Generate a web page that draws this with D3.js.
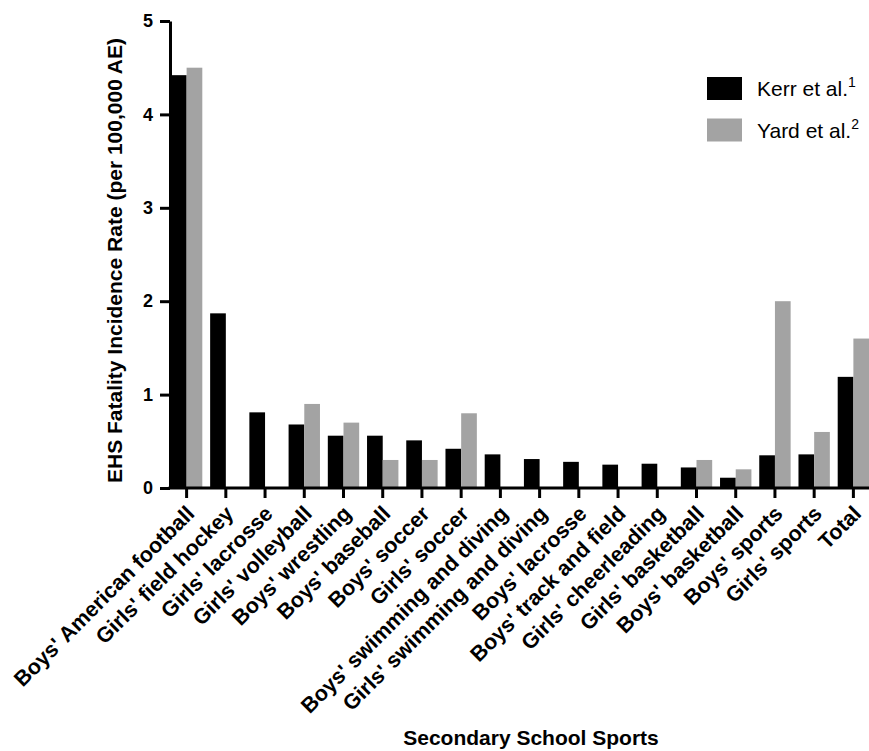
<!DOCTYPE html>
<html>
<head>
<meta charset="utf-8">
<script src="https://cdn.jsdelivr.net/npm/d3@7"></script>
<style>
  html, body { margin: 0; padding: 0; background: #fff; }
  svg { display: block; font-family: "Liberation Sans", Arial, Helvetica, sans-serif; }
</style>
</head>
<body>
<svg id="chart" width="869" height="751"></svg>
<script>
// Sports categories along the x axis
const categories = [
  "Boys' American football", "Girls' field hockey", "Girls' lacrosse", "Girls' volleyball",
  "Boys' wrestling", "Boys' baseball", "Boys' soccer", "Girls' soccer",
  "Boys' swimming and diving", "Girls' swimming and diving", "Boys' lacrosse",
  "Boys' track and field", "Girls' cheerleading", "Girls' basketball",
  "Boys' basketball", "Boys' sports", "Girls' sports", "Total"
];

// Series names and superscript reference numbers
const seriesNames = ["Kerr et al.", "Yard et al."];
const seriesRefs = ["1", "2"];

// Incidence rates per 100,000 athlete-exposures (null = not reported)
const kerrValues = [4.42, 1.87, 0.81, 0.68, 0.56, 0.56, 0.51, 0.42, 0.36, 0.31, 0.28, 0.25, 0.26, 0.22, 0.11, 0.35, 0.36, 1.19];
const yardValues = [4.5, null, null, 0.9, 0.7, 0.3, 0.3, 0.8, null, null, null, null, null, 0.3, 0.2, 2.0, 0.6, 1.6];

// Y axis tick values
const yTicks = [0, 1, 2, 3, 4, 5];

const colors = ["#000000", "#a3a3a3"];
const svg = d3.select("#chart");

const plotLeft = 170, plotRight = 873, plotTop = 21, plotBottom = 488;

const x0 = d3.scaleBand().domain(categories).range([167, plotRight]).paddingInner(0.2).paddingOuter(0.1);
const x1 = d3.scaleBand().domain(seriesNames).range([0, x0.bandwidth()]);
const y = d3.scaleLinear().domain([0, 5]).range([plotBottom, plotTop]);

const seriesValues = [kerrValues, yardValues];
const rows = [];
categories.forEach((c, i) => {
  seriesNames.forEach((s, j) => {
    const v = seriesValues[j][i];
    if (v !== null) rows.push({ cat: c, series: s, value: v, color: colors[j] });
  });
});

// Bars
svg.append("g").selectAll("rect").data(rows).join("rect")
  .attr("x", d => x0(d.cat) + x1(d.series))
  .attr("y", d => y(d.value))
  .attr("width", x1.bandwidth())
  .attr("height", d => y(0) - y(d.value))
  .attr("fill", d => d.color);

// Y axis
const yAxis = svg.append("g")
  .attr("transform", `translate(${plotLeft},0)`)
  .call(d3.axisLeft(y).tickValues(yTicks).tickFormat(d3.format("d")).tickSize(10).tickSizeOuter(0).tickPadding(7));
yAxis.select(".domain").attr("stroke-width", 3).attr("stroke", "#000");
yAxis.selectAll(".tick line").attr("stroke-width", 3).attr("stroke", "#000");
yAxis.selectAll(".tick text").attr("font-size", 18).attr("font-weight", "bold").attr("fill", "#000")
  .attr("font-family", "'Liberation Sans', Arial, sans-serif");

// X axis
const xAxis = svg.append("g")
  .attr("transform", `translate(0,${plotBottom})`)
  .call(d3.axisBottom(x0).tickSize(10).tickSizeOuter(0).tickFormat(""));
xAxis.select(".domain").remove();
xAxis.selectAll(".tick line").attr("stroke-width", 3).attr("stroke", "#000");
xAxis.append("line")
  .attr("x1", plotLeft - 1.5).attr("x2", 869)
  .attr("y1", 0).attr("y2", 0)
  .attr("stroke", "#000").attr("stroke-width", 3);

// Rotated category labels
svg.append("g").selectAll("text").data(categories).join("text")
  .attr("transform", d => `translate(${x0(d) + x0.bandwidth() / 2 + 9},${plotBottom + 27}) rotate(-45)`)
  .attr("text-anchor", "end")
  .attr("font-size", 21.5)
  .attr("font-weight", "bold")
  .attr("fill", "#000")
  .text(d => d);

// Axis titles
svg.append("text")
  .attr("transform", `translate(122,${(plotTop + plotBottom) / 2 + 6}) rotate(-90)`)
  .attr("text-anchor", "middle")
  .attr("font-size", 21)
  .attr("font-weight", "bold")
  .text("EHS Fatality Incidence Rate (per 100,000 AE)");

svg.append("text")
  .attr("x", 531).attr("y", 745)
  .attr("text-anchor", "middle")
  .attr("font-size", 21)
  .attr("font-weight", "bold")
  .text("Secondary School Sports");

// Legend
const legend = svg.append("g").attr("transform", "translate(707,77)");
seriesNames.forEach((s, j) => {
  const g = legend.append("g").attr("transform", `translate(0,${j * 41.5})`);
  g.append("rect").attr("width", 35).attr("height", 23).attr("fill", colors[j]);
  const t = g.append("text").attr("x", 50).attr("y", 19).attr("font-size", 21).attr("fill", "#000");
  t.append("tspan").text(s);
  t.append("tspan").attr("font-size", 14).attr("dy", -9).text(seriesRefs[j]);
});
</script>
</body>
</html>
